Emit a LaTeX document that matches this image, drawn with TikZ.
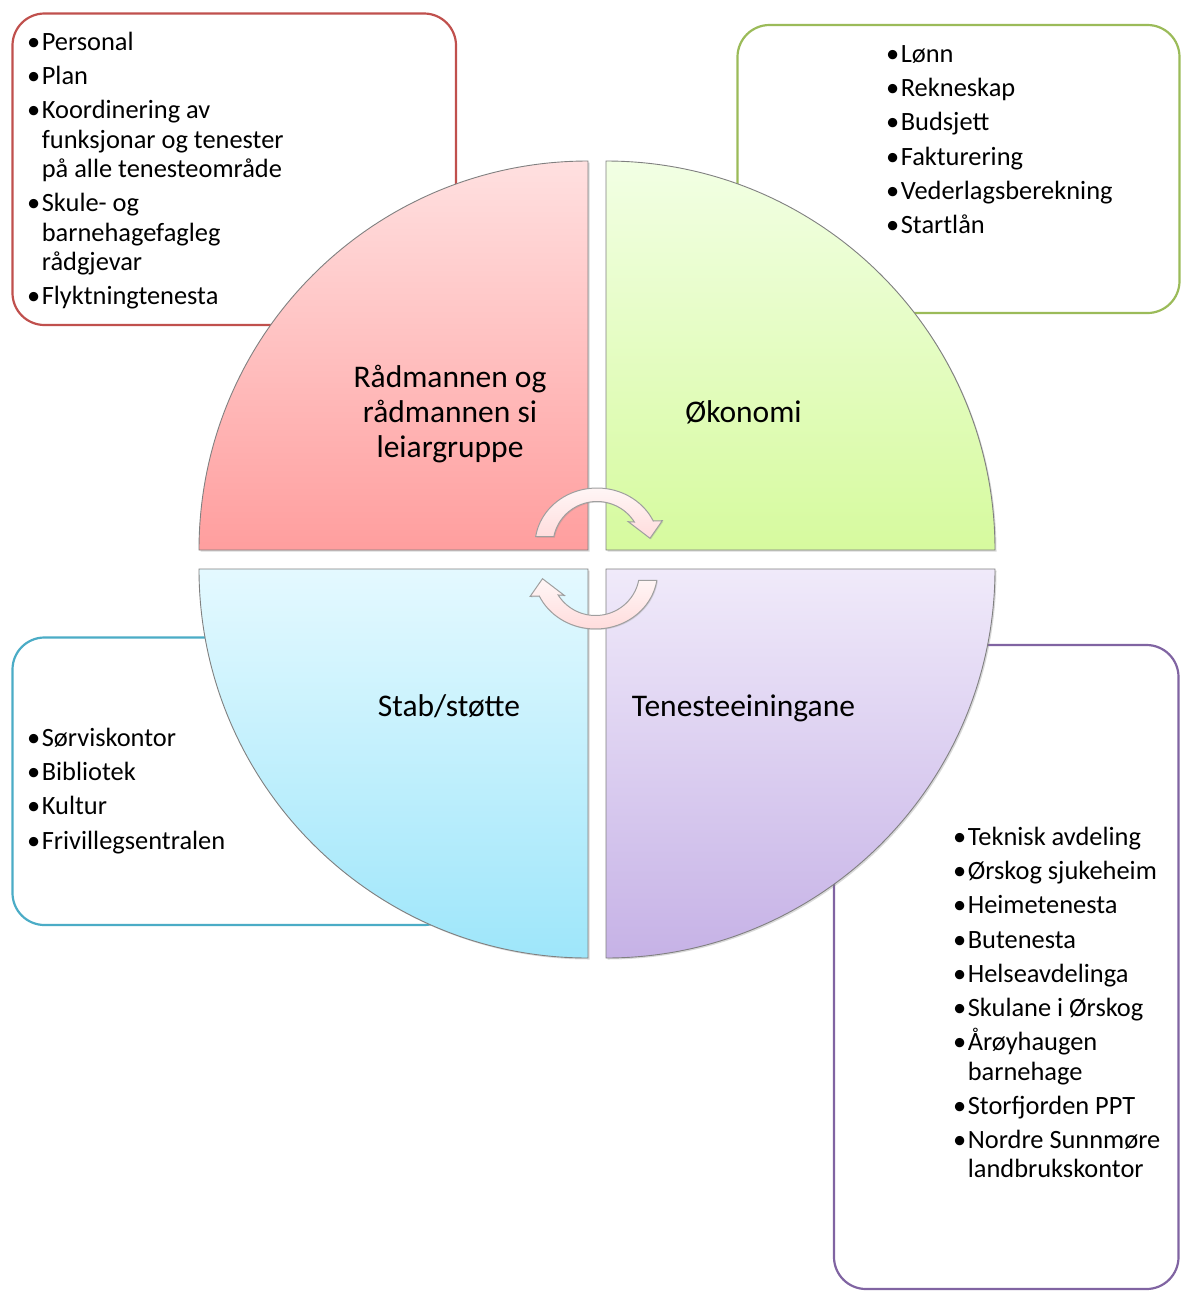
\documentclass[tikz,border=0pt]{standalone}
\usepackage{fontspec}
\setmainfont{Carlito}
\usetikzlibrary{shadows}
\definecolor{boxred}{HTML}{C0504D}
\definecolor{boxgreen}{HTML}{9BBB59}
\definecolor{boxblue}{HTML}{4BACC6}
\definecolor{boxpurple}{HTML}{8064A2}
\definecolor{pinkT}{RGB}{255,224,224}
\definecolor{pinkB}{RGB}{255,158,158}
\definecolor{greenT}{RGB}{242,255,228}
\definecolor{greenB}{RGB}{214,250,158}
\definecolor{blueT}{RGB}{228,249,255}
\definecolor{blueB}{RGB}{158,230,250}
\definecolor{purpT}{RGB}{240,234,250}
\definecolor{purpB}{RGB}{198,178,230}
\definecolor{arrT}{RGB}{255,246,246}
\definecolor{arrB}{RGB}{255,220,220}
\newlength\bulw
\newcommand{\bulletlist}[1]{\parbox[t]{300pt}{\fontsize{26.4pt}{29.3pt}\selectfont\settowidth{\bulw}{•\kern1.5pt}\raggedright\setlength{\parindent}{0pt}\setlength{\parskip}{4.9pt}#1}}
\newcommand{\itm}[1]{\hangindent=\bulw\hangafter=1 •\kern1.5pt#1\par}
\tikzset{
  listbox/.style={line width=2.2pt, rounded corners=32pt, fill=white},
  quad/.style={draw=black!50, line width=0.9pt, drop shadow={shadow xshift=1.5pt, shadow yshift=-1.5pt, opacity=0.3}},
  lbl/.style={font=\fontsize{31.5pt}{35pt}\selectfont, inner sep=0pt, anchor=base},
  lst/.style={anchor=base west, inner sep=0pt},
  cyc/.style={draw=gray!75, line width=1pt, top color=arrT, bottom color=arrB, drop shadow={shadow xshift=1pt, shadow yshift=-1pt, opacity=0.25}}
}
\begin{document}
\begin{tikzpicture}[x=1pt,y=-1pt]
\useasboundingbox (0,0) rectangle (1181,1291);
% side boxes
\draw[listbox, draw=boxred] (12.5,13.5) rectangle (456,325);
\draw[listbox, draw=boxgreen] (737.5,25) rectangle (1179.5,313);
\draw[listbox, draw=boxblue] (12.5,637.5) rectangle (456,925);
\draw[listbox, draw=boxpurple] (834,645) rectangle (1178.5,1289);
% quadrants
\path[quad, top color=pinkT, bottom color=pinkB] (588,550) -- (199,550) arc[start angle=180, end angle=90, radius=389pt] -- cycle;
\path[quad, top color=greenT, bottom color=greenB] (606,550) -- (606,161) arc[start angle=90, end angle=0, radius=389pt] -- cycle;
\path[quad, top color=blueT, bottom color=blueB] (588,569) -- (588,958) arc[start angle=270, end angle=180, radius=389pt] -- cycle;
\path[quad, top color=purpT, bottom color=purpB] (606,569) -- (995,569) arc[start angle=0, end angle=-90, radius=389pt] -- cycle;
% circular arrows
\begin{scope}[shift={(597,545)}]
\path[cyc] plot[variable=\t, domain=171.6:24.9, samples=40] ({62*cos(\t)},{-57*sin(\t)}) -- (65.3,-24.3) -- (53,-6.7) -- (31.3,-23.3) -- plot[variable=\t, domain=31.9:169, samples=40] ({44*cos(\t)},{-43.5*sin(\t)}) -- cycle;
\end{scope}
\begin{scope}[shift={(595.5,572)}, rotate=180]
\path[cyc] plot[variable=\t, domain=171.6:24.9, samples=40] ({62*cos(\t)},{-57*sin(\t)}) -- (65.3,-24.3) -- (53,-6.7) -- (31.3,-23.3) -- plot[variable=\t, domain=31.9:169, samples=40] ({44*cos(\t)},{-43.5*sin(\t)}) -- cycle;
\end{scope}
% quadrant labels
\node[lbl] (radm) at (450,387) {\parbox[t]{300pt}{\centering Rådmannen og\\rådmannen si\\leiargruppe}};
\node[lbl] (okon) at (743.5,422) {Økonomi};
\node[lbl] (stab) at (449,716) {Stab/støtte};
\node[lbl] (tene) at (743.5,716) {Tenesteeiningane};
% lists
\node[lst] (redlist) at (27,50.5) {\bulletlist{\itm{Personal}\itm{Plan}\itm{Koordinering av\newline funksjonar og tenester\newline på alle tenesteområde}\itm{Skule- og\newline barnehagefagleg\newline rådgjevar}\itm{Flyktningtenesta}}};
\node[lst] (greenlist) at (886,62.5) {\bulletlist{\itm{Lønn}\itm{Rekneskap}\itm{Budsjett}\itm{Fakturering}\itm{Vederlagsberekning}\itm{Startlån}}};
\node[lst] (bluelist) at (27,746.5) {\bulletlist{\itm{Sørviskontor}\itm{Bibliotek}\itm{Kultur}\itm{Frivillegsentralen}}};
\node[lst] (purplelist) at (953,845.5) {\bulletlist{\itm{Teknisk avdeling}\itm{Ørskog sjukeheim}\itm{Heimetenesta}\itm{Butenesta}\itm{Helseavdelinga}\itm{Skulane i Ørskog}\itm{Årøyhaugen\newline barnehage}\itm{Storfjorden PPT}\itm{Nordre Sunnmøre\newline landbrukskontor}}};
\end{tikzpicture}
\end{document}
